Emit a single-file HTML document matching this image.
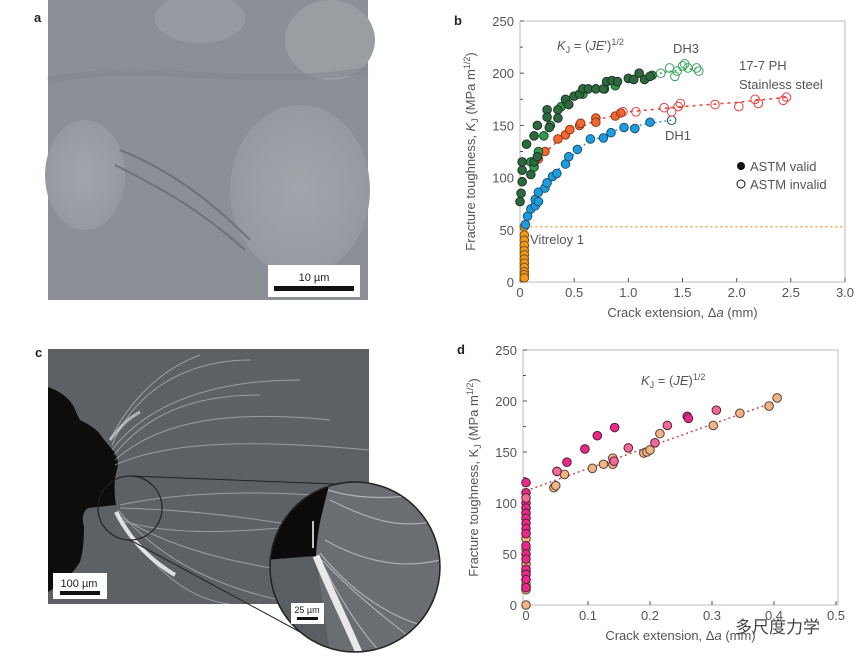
<!DOCTYPE html>
<html><head><meta charset="utf-8"><style>
html,body{margin:0;padding:0;background:#fff;width:865px;height:663px;overflow:hidden;font-family:"Liberation Sans",sans-serif}
svg{position:absolute;left:0;top:0}
</style></head><body>
<svg id="fig" width="865" height="663" viewBox="0 0 865 663">
 <defs>
  <radialGradient id="blob" cx="50%" cy="50%" r="50%"><stop offset="0" stop-color="#a2a6ab"/><stop offset="1" stop-color="#969aa0"/></radialGradient>
  <clipPath id="bigc"><circle cx="355" cy="567" r="85"/></clipPath>
  <clipPath id="rectc"><rect x="48" y="349" width="321" height="255"/></clipPath>
 </defs>
 <!-- panel a -->
 <g>
  <text x="34" y="22" font-size="13" font-weight="bold" fill="#222">a</text>
  <rect x="48" y="0" width="320" height="300" fill="#8c9096"/>
  <ellipse cx="300" cy="190" rx="70" ry="85" fill="url(#blob)"/>
  <ellipse cx="85" cy="175" rx="40" ry="55" fill="url(#blob)"/>
  <ellipse cx="200" cy="18" rx="45" ry="25" fill="#979ba1"/>
  <ellipse cx="330" cy="40" rx="45" ry="40" fill="#9a9ea3"/>
  <path d="M120,150 C170,170 210,200 250,240" stroke="#6f7379" stroke-width="2" fill="none"/>
  <path d="M115,165 C165,190 200,210 245,250" stroke="#6f7379" stroke-width="2" fill="none"/>
  <path d="M48,80 C150,60 250,90 368,70" stroke="#82868c" stroke-width="6" fill="none" opacity=".5"/>
  <rect x="268" y="265" width="92" height="32" fill="#fff"/>
  <text x="314" y="281" font-size="11" fill="#222" text-anchor="middle">10 µm</text>
  <rect x="274" y="286" width="80" height="5" fill="#111"/>
 </g>
 <!-- panel c -->
 <g>
  <text x="35" y="357" font-size="13" font-weight="bold" fill="#222">c</text>
  <rect x="48" y="349" width="321" height="255" fill="#5d6065"/>
  <g clip-path="url(#rectc)">
   <path d="M48,387 C62,392 72,400 76,412 L80,420 C90,425 98,430 102,437 L110,447 C115,452 118,458 118,465 L115,478 C114,490 115,498 116,505 L88,508 C82,512 82,520 84,527 C84,545 82,555 80,562 C72,575 60,585 48,592 Z" fill="#0d0d0e"/>
   <g stroke="#d8dadc" fill="none" stroke-width="1" opacity=".5">
    <path d="M112,445 C140,380 200,360 250,360"/><path d="M112,450 C150,400 220,380 300,380"/>
    <path d="M115,460 C160,420 230,410 330,420"/><path d="M115,465 C170,440 260,440 369,450"/>
    <path d="M110,440 C130,400 160,370 200,355"/><path d="M114,455 C150,410 200,395 260,395"/>
    <path d="M118,510 C160,560 220,590 300,604"/><path d="M118,515 C170,550 250,570 369,580"/>
    <path d="M120,520 C180,540 260,530 369,520"/><path d="M120,505 C190,490 280,490 369,500"/>
    <path d="M118,512 C150,570 190,600 230,604"/><path d="M120,508 C200,510 280,520 369,540"/>
   </g>
   <path d="M110,440 C118,430 125,420 140,412" stroke="#e8e8e8" stroke-width="3" fill="none" opacity=".6"/>
   <path d="M116,512 C130,540 150,560 175,575" stroke="#fff" stroke-width="4" fill="none" opacity=".8"/>
  </g>
  <circle cx="130" cy="508" r="32" fill="none" stroke="#222" stroke-width="1.2"/>
  <line x1="130" y1="476" x2="335" y2="484" stroke="#222" stroke-width="1"/>
  <line x1="130" y1="540" x2="300" y2="632" stroke="#222" stroke-width="1"/>
  <circle cx="355" cy="567" r="85" fill="#6a6d72"/>
  <g clip-path="url(#bigc)">
   <path d="M265,480 L330,480 C325,505 318,520 316,556 L265,560 Z" fill="#0b0b0c"/>
   <path d="M265,560 L316,556 L330,655 L265,655 Z" fill="#5a5d61"/>
   <g stroke="#e6e7e9" fill="none" stroke-width="1.2" opacity=".55">
    <path d="M318,555 C340,600 360,630 380,652"/><path d="M320,553 C350,590 390,620 440,630"/>
    <path d="M325,540 C360,560 400,570 440,560"/><path d="M330,500 C370,520 400,530 440,520"/>
    <path d="M328,490 C360,500 400,500 440,490"/><path d="M322,560 C360,600 400,630 430,652"/>
   </g>
   <path d="M316,556 C330,590 345,620 360,655" stroke="#fff" stroke-width="7" fill="none" opacity=".85"/>
  </g>
  <circle cx="355" cy="567" r="85" fill="none" stroke="#222" stroke-width="1.5"/>
  <line x1="313" y1="521" x2="313" y2="548" stroke="#fff" stroke-width="1.5"/>
  <rect x="53" y="573" width="54" height="26" fill="#fff"/>
  <text x="79" y="587" font-size="11" fill="#222" text-anchor="middle">100 µm</text>
  <rect x="60" y="591" width="40" height="4" fill="#111"/>
  <rect x="291" y="603" width="33" height="21" fill="#fff"/>
  <text x="307" y="613" font-size="9" fill="#222" text-anchor="middle">25 µm</text>
  <rect x="297" y="617" width="21" height="3" fill="#111"/>
 </g>
 <g id="chartB"></g>
 <g id="chartD"></g>
</svg>
<script>
// ---- Chart b data ----
const bDH3validX=[0,0.01,0.02,0.02,0.02,0.06,0.1,0.13,0.13,0.16,0.16,0.25,0.25,0.27,0.35,0.35,0.42,0.45,0.5,0.55,0.58,0.63,0.7,0.77,0.8,0.85,0.9,1.0,1.05,1.1,1.15,1.2];
const bDH3validY=[77,85,96,107,115,132,103,115,140,150,120,165,158,148,157,165,175,170,178,180,185,185,185,185,192,193,192,195,194,200,194,197];
const bGreenX=[0.1,0.13,0.17,0.22,0.28,0.38,0.43,0.58,0.78,0.88,1.22];
const bGreenY=[115,110,125,140,150,168,172,180,185,188,198];
const bDH3invX=[1.3,1.38,1.43,1.45,1.52,1.55,1.63,1.65,1.5];
const bDH3invY=[200,205,197,202,209,205,205,202,207];
const bSteelValidX=[0.17,0.23,0.35,0.42,0.46,0.55,0.56,0.7,0.7,0.88,0.93];
const bSteelValidY=[118,125,137,141,146,150,152,157,153,159,162];
const bSteelInvX=[0.95,1.07,1.33,1.4,1.46,1.48,1.8,2.02,2.17,2.2,2.43,2.46];
const bSteelInvY=[163,163,167,163,168,171,170,168,175,171,174,177];
const bDH1validX=[0.05,0.07,0.1,0.14,0.14,0.17,0.17,0.23,0.25,0.3,0.34,0.42,0.45,0.53,0.65,0.77,0.84,0.96,1.06,1.2];
const bDH1validY=[55,63,70,73,79,77,86,90,95,101,104,113,120,127,137,138,143,148,147,153];
const bDH1invX=[1.4];
const bDH1invY=[155];
const bVitX=[0.04,0.04,0.04,0.04,0.04,0.04,0.04,0.04,0.04,0.04,0.04,0.04];
const bVitY=[53,45,40,35,30,26,22,18,14,10,7,4];
const bXTicks=[0,0.5,1.0,1.5,2.0,2.5,3.0];
const bXTickLabels=["0","0.5","1.0","1.5","2.0","2.5","3.0"];
const bYTicks=[0,50,100,150,200,250];
// ---- Chart d data ----
const dMagX=[0,0,0,0,0,0,0,0,0,0,0,0,0,0,0,0,0.05,0.066,0.095,0.115,0.143,0.26,0.262];
const dMagY=[120,110,100,95,90,85,80,75,70,58,50,45,35,30,25,17,131,140,153,166,174,185,183];
const dPinkX=[0,0.05,0.142,0.165,0.208,0.228,0.307];
const dPinkY=[105,131,141,154,159,176,191];
const dTanX=[0,0,0,0,0,0,0,0,0.045,0.048,0.062,0.107,0.125,0.14,0.14,0.19,0.195,0.2,0.216,0.302,0.345,0.392,0.405];
const dTanY=[0,15,20,25,33,40,55,65,115,117,128,134,138,138,144,149,150,152,168,176,188,195,203];
const dFitX=[0,0.405];
const dFitY=[112,200];
const dXTicks=[0,0.1,0.2,0.3,0.4,0.5];
const dXTickLabels=["0","0.1","0.2","0.3","0.4","0.5"];
const dYTicks=[0,50,100,150,200,250];

const NS="http://www.w3.org/2000/svg";
function mk(parent,tag,attrs){const e=document.createElementNS(NS,tag);for(const k in attrs)e.setAttribute(k,attrs[k]);parent.appendChild(e);return e;}
const TXT="#555";

function axes(g,x0,x1,y0,y1,xs,ys,xt,xtl,yt,xlabel,ylabelParts,letter){
  const f=mk(g,'rect',{x:x0,y:y1,width:x1-x0,height:y0-y1,fill:'none',stroke:'#bbb','stroke-width':1});
  
  
  xt.forEach((v,i)=>{mk(g,'line',{x1:xs(v),x2:xs(v),y1:y0,y2:y0-4,stroke:'#555'});
    const t=mk(g,'text',{x:xs(v),y:y0+15,'font-size':13,fill:TXT,'text-anchor':'middle'});t.textContent=xtl[i];
    
    
  });
  yt.forEach(v=>{mk(g,'line',{x1:x0,x2:x0+4,y1:ys(v),y2:ys(v),stroke:'#555'});
    const t=mk(g,'text',{x:x0-6,y:ys(v)+5,'font-size':13,fill:TXT,'text-anchor':'end'});t.textContent=v;
    
    
  });
  for(let i=0;i<yt.length-1;i++){const m=(yt[i]+yt[i+1])/2;mk(g,'line',{x1:x0,x2:x0+3,y1:ys(m),y2:ys(m),stroke:'#555'});}
  const xl=mk(g,'text',{x:(x0+x1)/2,y:y0+35,'font-size':13,fill:TXT,'text-anchor':'middle'});
  xl.innerHTML=xlabel;
  
  
  const yl=mk(g,'text',{x:0,y:0,'font-size':13,fill:TXT,'text-anchor':'middle',transform:`translate(${x0-45},${(y0+y1)/2}) rotate(-90)`});
  yl.innerHTML=ylabelParts;
  
  
  const L=mk(g,'text',{x:x0-66,y:y1+4,'font-size':13,'font-weight':'bold',fill:'#222'});L.textContent=letter;
  
  
}
function pts(g,X,Y,xs,ys,fill,stroke,name,r){
  X.forEach((v,i)=>{const c=mk(g,'circle',{cx:xs(v),cy:ys(Y[i]),r:r||4.3,fill:fill,stroke:stroke,'stroke-width':1});
    
    
  });
}
function fitPath(g,X,Y,xs,ys,color,dash){
  const d=X.map((v,i)=>(i?'L':'M')+xs(v).toFixed(1)+','+ys(Y[i]).toFixed(1)).join(' ');
  const p=mk(g,'path',{d:d,fill:'none',stroke:color,'stroke-width':1.5,'stroke-dasharray':dash});
  
  
}
// Chart b
(function(){
  const g=document.getElementById('chartB');
  const x0=520,x1=845,y0=282,y1=21;
  const xs=v=>x0+v*(x1-x0)/3, ys=v=>y0-v*(y0-y1)/250;
  axes(g,x0,x1,y0,y1,xs,ys,bXTicks,bXTickLabels,bYTicks,'Crack extension, Δ<tspan font-style="italic">a</tspan> (mm)','Fracture toughness, <tspan font-style="italic">K</tspan><tspan font-size="9" dy="3">J</tspan><tspan dy="-3"> (MPa m</tspan><tspan font-size="9" dy="-5">1/2</tspan><tspan dy="5">)</tspan>','b');
  fitPath(g,[0.05,3.0],[53,53],xs,ys,'#f5a54a','2 3');
  fitPath(g,[0.05,0.2,0.4,0.6,0.9,1.2,1.4],[55,90,113,132,146,152,155],xs,ys,'#3a8fc8','2 3');
  fitPath(g,[0.17,0.4,0.7,1.0,1.5,2.0,2.46],[118,140,155,163,168,172,177],xs,ys,'#e8403a','3 4');
  fitPath(g,[1.2,1.4,1.65],[198,202,205],xs,ys,'#3aa060','2 3');
  pts(g,bVitX,bVitY,xs,ys,'#f39a1e','#7a5010','vitreloy-point');
  pts(g,bDH1validX,bDH1validY,xs,ys,'#1c9de0','#20506f','dh1-valid-point');
  pts(g,bDH1invX,bDH1invY,xs,ys,'none','#20506f','dh1-invalid-point');
  pts(g,bSteelValidX,bSteelValidY,xs,ys,'#f2682e','#8a3a1c','steel-valid-point');
  pts(g,bSteelInvX,bSteelInvY,xs,ys,'none','#e8403a','steel-invalid-point');
  pts(g,bGreenX,bGreenY,xs,ys,'#2f9a4a','#1c4a28','dh3-valid-point');
  pts(g,bDH3validX,bDH3validY,xs,ys,'#2e6a40','#1d3324','dh3-valid-point');
  pts(g,bDH3invX,bDH3invY,xs,ys,'none','#3aa060','dh3-invalid-point');
  const T=(x,y,s,n,html)=>{const t=mk(g,'text',{x:x,y:y,'font-size':s,fill:TXT});t.innerHTML=html;
    
    };
  T(557,50,13,'formula-label','<tspan font-style="italic">K</tspan><tspan font-size="9" dy="3">J</tspan><tspan dy="-3"> = (</tspan><tspan font-style="italic">JE</tspan>\')<tspan font-size="9" dy="-5">1/2</tspan>');
  T(673,53,13,'dh3-label','DH3');
  T(739,70,13,'steel-label','17-7 PH');
  T(739,89,13,'steel-label','Stainless steel');
  T(665,140,13,'dh1-label','DH1');
  T(530,244,13,'vitreloy-label','Vitreloy 1');
  mk(g,'circle',{cx:741,cy:166,r:4,fill:'#111'});
  mk(g,'circle',{cx:741,cy:184,r:4,fill:'none',stroke:'#111'});
  T(750,171,13,'legend-valid','ASTM valid');
  T(750,189,13,'legend-invalid','ASTM invalid');
})();
// Chart d
(function(){
  const g=document.getElementById('chartD');
  const x0=523,x1=838,y0=605,y1=350;
  const xs=v=>526+v*620, ys=v=>y0-v*(y0-y1)/250;
  axes(g,x0,x1,y0,y1,xs,ys,dXTicks,dXTickLabels,dYTicks,'Crack extension, Δ<tspan font-style="italic">a</tspan> (mm)','Fracture toughness, K<tspan font-size="9" dy="3">J</tspan><tspan dy="-3"> (MPa m</tspan><tspan font-size="9" dy="-5">1/2</tspan><tspan dy="5">)</tspan>','d');
  fitPath(g,dFitX,dFitY,xs,ys,'#c84a5a','2 3');
  pts(g,dTanX,dTanY,xs,ys,'#f0b487','#5a4030','tan-point');
  pts(g,dMagX,dMagY,xs,ys,'#e8288a','#5a2030','magenta-point');
  pts(g,dPinkX,dPinkY,xs,ys,'#f06a9a','#5a2030','pink-point');
  const t=mk(g,'text',{x:641,y:385,'font-size':13,fill:TXT});
  t.innerHTML='<tspan font-style="italic">K</tspan><tspan font-size="9" dy="3">J</tspan><tspan dy="-3"> = (</tspan><tspan font-style="italic">JE</tspan>)<tspan font-size="9" dy="-5">1/2</tspan>';
  
  
  const w=mk(g,'text',{x:735,y:633,'font-size':17,fill:'#444','font-family':'"Liberation Sans","Noto Sans CJK SC",sans-serif'});
  w.textContent='多尺度力学';
  
  
})();
</script>
</body></html>
